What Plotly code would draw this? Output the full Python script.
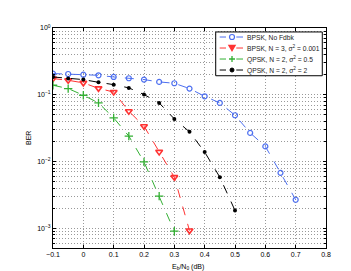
import plotly.graph_objects as go
import numpy as np

x_blue = [-0.1, -0.05, 0, 0.05, 0.1, 0.15, 0.2, 0.25, 0.3, 0.35, 0.4, 0.45, 0.5, 0.55, 0.6, 0.65, 0.7]
ber_blue = [0.208, 0.205, 0.200, 0.196, 0.185, 0.177, 0.169, 0.156, 0.149, 0.124, 0.095, 0.0757, 0.0495, 0.0269, 0.0169, 0.0068, 0.00269]

x_red = [-0.1, -0.05, 0, 0.05, 0.1, 0.15, 0.2, 0.25, 0.3, 0.35]
ber_red = [0.175, 0.165, 0.151, 0.125, 0.110, 0.0569, 0.0339, 0.0140, 0.00586, 0.00093]

x_green = [-0.1, -0.05, 0, 0.05, 0.1, 0.15, 0.2, 0.25, 0.3]
ber_green = [0.139, 0.124, 0.0986, 0.0757, 0.0452, 0.0241, 0.00993, 0.00305, 0.00091]

x_black = [-0.1, -0.05, 0, 0.05, 0.1, 0.15, 0.2, 0.25, 0.3, 0.35, 0.4, 0.45, 0.5]
ber_black = [0.185, 0.175, 0.169, 0.154, 0.142, 0.127, 0.101, 0.0757, 0.0436, 0.0279, 0.0139, 0.00586, 0.00186]

names = ["BPSK, No Fdbk",
         "BPSK, N = 3, σ<sup>2</sup> = 0.001",
         "QPSK, N = 2, σ<sup>2</sup> = 0.5",
         "QPSK, N = 2, σ<sup>2</sup> = 2"]
colors = ["#4d6ff0", "#ff3333", "#33b033", "black"]

xticks = [-0.1, 0, 0.1, 0.2, 0.3, 0.4, 0.5, 0.6, 0.7, 0.8]
xticktext = ["−0.1", "0", "0.1", "0.2", "0.3", "0.4", "0.5", "0.6", "0.7", "0.8"]
yticks = [1e-3, 1e-2, 1e-1, 1]
yticktext = ["10<sup>−3</sup>", "10<sup>−2</sup>", "10<sup>−1</sup>", "10<sup>0</sup>"]

fig = go.Figure()
fig.add_trace(go.Scatter(x=x_blue, y=ber_blue, name=names[0], mode="lines+markers",
                         line=dict(color=colors[0], dash="dash", width=1),
                         marker=dict(symbol="circle-open", size=5, color=colors[0], line=dict(width=1.2))))
fig.add_trace(go.Scatter(x=x_red, y=ber_red, name=names[1], mode="lines+markers",
                         line=dict(color=colors[1], dash="dash", width=1),
                         marker=dict(symbol="triangle-down-open", size=6, color=colors[1], line=dict(width=1.6))))
fig.add_trace(go.Scatter(x=x_green, y=ber_green, name=names[2], mode="lines+markers",
                         line=dict(color=colors[2], dash="dash", width=1),
                         marker=dict(symbol="cross-thin-open", size=6, color=colors[2], line=dict(width=1.3, color=colors[2]))))
fig.add_trace(go.Scatter(x=x_black, y=ber_black, name=names[3], mode="lines+markers",
                         line=dict(color=colors[3], dash="dash", width=1),
                         marker=dict(symbol="circle", size=4, color=colors[3])))

minor_vals = []
for e in [-4, -3, -2, -1]:
    for d in range(2, 10):
        v = d * 10 ** e
        if v > 5.1e-4:
            minor_vals.append(v)

# custom compact legend (MATLAB style)
shapes = []
annotations = []
shapes.append(dict(type="rect", xref="paper", yref="paper", x0=0.596, x1=0.9864, y0=0.783, y1=0.982,
                   line=dict(color="black", width=1), fillcolor="white", layer="above"))
rows = [0.959, 0.909, 0.859, 0.809]
mx = 0.6557
for i, (yr, c) in enumerate(zip(rows, colors)):
    for xa, xb in [(0.6106, 0.6337), (0.6714, 0.696)]:
        shapes.append(dict(type="line", xref="paper", yref="paper", x0=xa, x1=xb, y0=yr, y1=yr,
                           line=dict(color=c, width=1), layer="above"))
    common = dict(xref="paper", yref="paper", xsizemode="pixel", ysizemode="pixel",
                  xanchor=mx, yanchor=yr, layer="above")
    if i == 0:
        shapes.append(dict(type="circle", x0=-2.5, x1=2.5, y0=-2.5, y1=2.5,
                           line=dict(color=c, width=1.2), **common))
    elif i == 1:
        shapes.append(dict(type="path", path="M-3,2.5 L3,2.5 L0,-2.5 Z",
                           line=dict(color=c, width=1.4), fillcolor=c, **common))
    elif i == 2:
        shapes.append(dict(type="path", path="M-3,0 L3,0 M0,-3 L0,3",
                           line=dict(color=c, width=1.3), **common))
    else:
        shapes.append(dict(type="circle", x0=-2, x1=2, y0=-2, y1=2,
                           line=dict(color=c, width=1), fillcolor=c, **common))
    annotations.append(dict(xref="paper", yref="paper", x=0.705, y=yr, xanchor="left", yanchor="middle",
                            text=names[i], showarrow=False, font=dict(size=6.7, color="#222222")))

# axis titles
annotations.append(dict(xref="paper", yref="paper", x=0.495, y=-0.086, xanchor="center", yanchor="middle",
                        text="E<sub>b</sub>/N<sub>0</sub> (dB)", showarrow=False, font=dict(size=7)))
annotations.append(dict(xref="paper", yref="paper", x=-0.0916, y=0.5, xanchor="center", yanchor="middle",
                        text="BER", textangle=-90, showarrow=False, font=dict(size=7)))

fig.update_layout(
    width=351, height=271,
    margin=dict(l=45, r=33, t=20, b=31),
    paper_bgcolor="white", plot_bgcolor="white",
    font=dict(family="Liberation Sans, Arial, sans-serif", size=7, color="black"),
    showlegend=False,
    shapes=shapes, annotations=annotations,
    xaxis=dict(range=[-0.1, 0.8], tickvals=xticks, ticktext=xticktext,
               showgrid=True, gridcolor="#999999", griddash="1px,2px", gridwidth=1,
               ticks="inside", ticklen=3, tickcolor="black",
               showline=True, linecolor="black", linewidth=1, mirror="ticks",
               zeroline=False, automargin=False),
    yaxis=dict(type="log", range=[np.log10(5.1e-4), 0], tickvals=yticks, ticktext=yticktext,
               showgrid=True, gridcolor="#999999", griddash="1px,2px", gridwidth=1,
               ticks="inside", ticklen=3, tickcolor="black",
               showline=True, linecolor="black", linewidth=1, mirror="ticks", automargin=False,
               minor=dict(tickvals=minor_vals, showgrid=True, gridcolor="#999999", griddash="1px,2px",
                          gridwidth=1, ticks="inside", ticklen=2, tickcolor="black")),
)

fig.write_html("out.html")
